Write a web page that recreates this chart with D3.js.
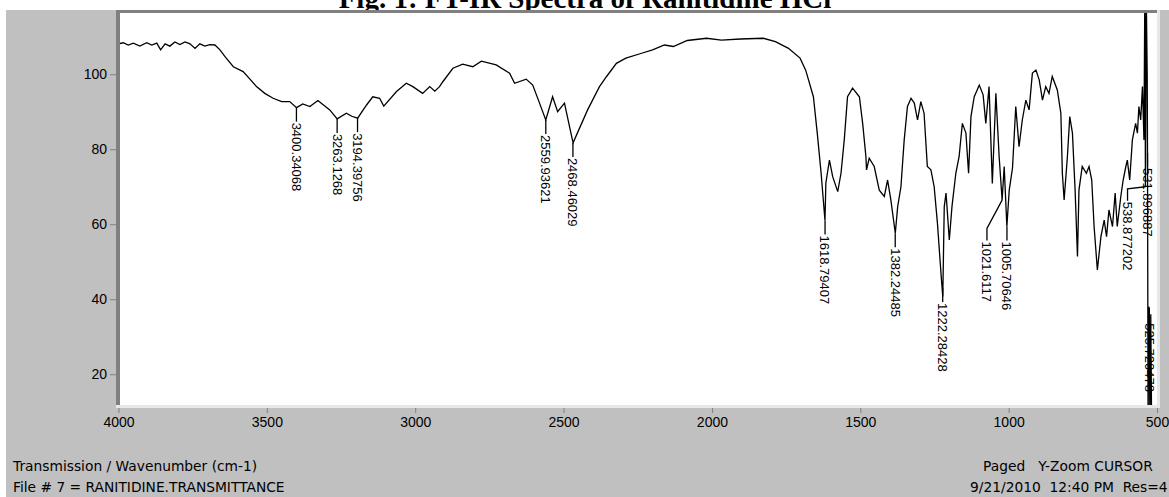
<!DOCTYPE html>
<html>
<head>
<meta charset="utf-8">
<script src="https://cdn.jsdelivr.net/npm/d3@7/dist/d3.min.js"></script>
<style>
body { margin: 0; background: #fff; }
svg { display: block; }
text { font-family: "Liberation Sans", Arial, sans-serif; fill: #000; }
</style>
</head>
<body>
<div id="chart"></div>
<script>
// spectrum (cm-1, %T)
var wavenumbers = [4000, 3984, 3967, 3950, 3928, 3905, 3888, 3871, 3858, 3843, 3827, 3810, 3793, 3776, 3759, 3742, 3726, 3709, 3692, 3675,
	3658, 3641, 3613, 3580, 3557, 3535, 3507, 3479, 3450, 3423, 3400, 3379, 3355, 3328, 3288, 3263, 3232, 3214, 3194, 3164,
	3143, 3120, 3106, 3063, 3030, 3008, 2975, 2951, 2934, 2918, 2907, 2873, 2840, 2806, 2777, 2727, 2682, 2665, 2626, 2604,
	2581, 2560, 2537, 2520, 2497, 2468, 2419, 2379, 2355, 2322, 2290, 2237, 2200, 2160, 2130, 2083, 2018, 1968, 1904, 1827,
	1786, 1742, 1703, 1684, 1658, 1645, 1632, 1619, 1616, 1604, 1593, 1576, 1565, 1554, 1543, 1526, 1503, 1492, 1481, 1479,
	1470, 1453, 1436, 1419, 1408, 1397, 1382, 1374, 1363, 1352, 1341, 1329, 1318, 1307, 1296, 1285, 1274, 1262, 1251, 1240,
	1228, 1222, 1217, 1211, 1200, 1191, 1178, 1167, 1156, 1144, 1135, 1127, 1116, 1099, 1086, 1077, 1066, 1055, 1043, 1032,
	1022, 1015, 1006, 998, 987, 976, 965, 954, 942, 931, 920, 908, 897, 886, 875, 864, 853, 836, 824, 819,
	813, 802, 794, 785, 776, 768, 763, 752, 738, 729, 720, 712, 701, 689, 678, 670, 662, 650, 641, 634,
	622, 614, 605, 600, 592, 583, 572, 566, 561, 555, 549, 544, 541, 539, 536, 533, 532, 530, 528, 526,
	524, 521, 518, 514];

var transmittance = [108.1, 108.4, 107.8, 108.3, 107.5, 108.4, 107.8, 108.3, 106.5, 108.1, 107.5, 108.6, 107.9, 108.6, 108.1, 106.9, 108.1, 107.5, 107.9, 107.8,
	106.5, 104.7, 102.0, 100.7, 98.7, 96.7, 94.9, 93.6, 92.7, 92.7, 91.1, 92.1, 91.4, 93.0, 90.5, 88.1, 89.6, 88.8, 88.3, 91.8,
	94.0, 93.6, 91.5, 95.4, 97.6, 96.7, 94.9, 96.7, 95.5, 96.7, 98.0, 101.6, 102.7, 102.0, 103.5, 102.5, 100.3, 97.6, 98.7, 97.1,
	92.3, 87.8, 94.0, 90.0, 92.3, 81.7, 90.5, 96.7, 99.4, 102.9, 104.3, 105.6, 106.5, 107.8, 107.4, 109.0, 109.6, 109.1, 109.4, 109.6,
	108.7, 106.9, 104.3, 101.1, 94.0, 84.3, 73.6, 61.0, 71.0, 77.1, 72.7, 68.7, 73.6, 82.5, 94.0, 96.3, 94.0, 86.9, 78.0, 74.5,
	77.6, 75.4, 69.1, 67.4, 71.8, 66.5, 57.6, 64.7, 70.0, 82.5, 91.4, 93.6, 92.3, 87.8, 92.7, 89.6, 75.4, 74.5, 70.0, 60.3,
	46.9, 40.7, 64.7, 68.3, 55.8, 64.7, 73.6, 78.0, 86.9, 84.3, 73.6, 88.7, 94.0, 97.1, 94.5, 86.9, 96.7, 70.9, 94.9, 78.0,
	66.5, 75.4, 59.4, 69.1, 75.0, 91.4, 80.7, 87.8, 93.1, 90.5, 100.3, 101.1, 98.5, 93.1, 96.7, 94.9, 99.4, 95.8, 89.6, 73.6,
	66.5, 78.0, 88.7, 84.3, 69.1, 51.4, 69.1, 75.4, 73.6, 75.4, 71.8, 59.4, 47.8, 56.7, 61.1, 56.7, 63.8, 59.4, 68.3, 59.4,
	67.4, 71.8, 75.4, 77.1, 71.8, 82.5, 86.9, 84.3, 91.4, 87.8, 96.7, 82.5, 122, 70, 120, 100, 79, 5, 38, 37.6,
	5, 36, 5, 10];

// picked peaks
var peakWavenumbers = [3400.34068, 3263.1268, 3194.39756, 2559.93621, 2468.46029, 1618.79407, 1382.24485, 1222.28428, 1021.6117, 1005.70646, 538.877202, 531.896887, 525.720478];
var peakTransmittance = [91.1, 88.1, 88.3, 87.8, 81.7, 61.0, 57.6, 43.0, 66.5, 59.4, 70, 79, 37.6];
var peakLabels = ["3400.34068", "3263.1268", "3194.39756", "2559.93621", "2468.46029", "1618.79407", "1382.24485", "1222.28428", "1021.6117", "1005.70646", "538.877202", "531.896887", "525.720478"];

var xTicks = [4000, 3500, 3000, 2500, 2000, 1500, 1000, 500];
var yTicks = [20, 40, 60, 80, 100];

var titleText = "Fig. 1: FT-IR Spectra of Ranitidine HCl";
var footLeft = ["Transmission / Wavenumber (cm-1)", "File # 7 = RANITIDINE.TRANSMITTANCE"];
var footRight = ["Paged   Y-Zoom CURSOR", "9/21/2010  12:40 PM  Res=4"];

var W = 1169, H = 497;
var plot = { left: 118.5, right: 1157, top: 12, bottom: 405 };

var svg = d3.select("#chart").append("svg")
	.attr("width", W)
	.attr("height", H);

var x = d3.scaleLinear().domain([4000, 500]).range([plot.left, plot.right]);
var y = d3.scaleLinear().domain([11.8, 116.6]).range([plot.bottom, plot.top]);

// window panel
svg.append("rect")
	.attr("x", 6).attr("y", 10)
	.attr("width", W - 6).attr("height", H - 10)
	.attr("fill", "#c0c0c0");

// title (cut by the top of the page, as in the scan)
svg.append("text")
	.attr("x", 585).attr("y", 8)
	.attr("text-anchor", "middle")
	.style("font-family", "'Liberation Serif', 'Times New Roman', serif")
	.style("font-weight", "bold")
	.style("font-size", "29px")
	.text(titleText);

// plot frame, sunken
svg.append("rect")
	.attr("x", 116).attr("y", 10)
	.attr("width", 1044).attr("height", 398)
	.attr("fill", "#e8e8e8");
svg.append("rect")
	.attr("x", 116).attr("y", 10)
	.attr("width", 1041).attr("height", 395)
	.attr("fill", "#808080");
svg.append("rect")
	.attr("x", 120).attr("y", 13)
	.attr("width", 1037).attr("height", 392)
	.attr("fill", "#fff");

svg.append("clipPath")
	.attr("id", "clip")
	.append("rect")
	.attr("x", 120).attr("y", 13)
	.attr("width", 1037).attr("height", 392);

// y axis
var yAxis = svg.append("g")
	.attr("transform", "translate(116,0)")
	.call(d3.axisLeft(y).tickValues(yTicks).tickSize(6).tickPadding(3));
yAxis.select(".domain").remove();
yAxis.selectAll(".tick line").attr("stroke", "#808080");
yAxis.selectAll(".tick text")
	.style("font-size", "14px")
	.style("font-family", "'Liberation Sans', Arial, sans-serif")
	.attr("fill", "#000");

// x axis
var xAxis = svg.append("g")
	.attr("transform", "translate(0,408)")
	.call(d3.axisBottom(x).tickValues(xTicks).tickFormat(d3.format("d")).tickSize(5).tickPadding(4));
xAxis.select(".domain").remove();
xAxis.selectAll(".tick line").attr("stroke", "#808080");
xAxis.selectAll(".tick text")
	.style("font-size", "14px")
	.style("font-family", "'Liberation Sans', Arial, sans-serif")
	.attr("fill", "#000");

// spectrum
var points = wavenumbers.map(function(w, i) { return { wn: w, t: transmittance[i] }; });

var line = d3.line()
	.x(function(d) { return x(d.wn); })
	.y(function(d) { return y(d.t); });

svg.append("path")
	.datum(points)
	.attr("clip-path", "url(#clip)")
	.attr("d", line)
	.attr("fill", "none")
	.attr("stroke", "#000")
	.attr("stroke-width", 1.3);

// peak labels, pushed left when they would collide
var tickLen = 14, labelGap = 20, labelLen = 70;

var peaks = peakWavenumbers.map(function(w, i) {
	var px = x(w), py = y(peakTransmittance[i]);
	return { px: px, py: py, lx: px, ly: py + tickLen, label: peakLabels[i] };
});

for (var i = peaks.length - 2; i >= 0; i--) {
	var p = peaks[i], n = peaks[i + 1];
	var overlap = p.ly < n.ly + labelLen && n.ly < p.ly + labelLen;
	if (overlap && n.lx - p.lx < labelGap) {
		p.lx = n.lx - labelGap;
		p.ly = Math.max(p.ly, n.ly);
	}
}

var pg = svg.append("g").attr("class", "peaks");

pg.selectAll("path")
	.data(peaks)
	.enter().append("path")
	.attr("d", function(d) {
		if (d.lx === d.px) return "M" + d.px + "," + d.py + "V" + d.ly;
		return "M" + d.px + "," + d.py + "L" + d.lx + "," + (d.ly - 12) + "V" + d.ly;
	})
	.attr("fill", "none")
	.attr("stroke", "#000")
	.attr("stroke-width", 1.3);

pg.selectAll("text")
	.data(peaks)
	.enter().append("text")
	.attr("transform", function(d) { return "translate(" + d.lx + "," + d.ly + ") rotate(90)"; })
	.attr("x", 1)
	.attr("dy", "0.35em")
	.style("font-size", "13px")
	.text(function(d) { return d.label; });

// status lines
svg.selectAll(".foot-left")
	.data(footLeft)
	.enter().append("text")
	.attr("class", "foot-left")
	.attr("x", 13)
	.attr("y", function(d, i) { return 471 + i * 21; })
	.style("font-family", "'DejaVu Sans', Verdana, sans-serif")
	.style("font-size", "13.8px")
	.text(function(d) { return d; });

svg.selectAll(".foot-right")
	.data(footRight)
	.enter().append("text")
	.attr("class", "foot-right")
	.attr("x", function(d, i) { return i ? 970 : 983; })
	.attr("y", function(d, i) { return 471 + i * 21; })
	.style("font-family", "'DejaVu Sans', Verdana, sans-serif")
	.style("font-size", "13.8px")
	.style("white-space", "pre")
	.text(function(d) { return d; });
</script>
</body>
</html>
